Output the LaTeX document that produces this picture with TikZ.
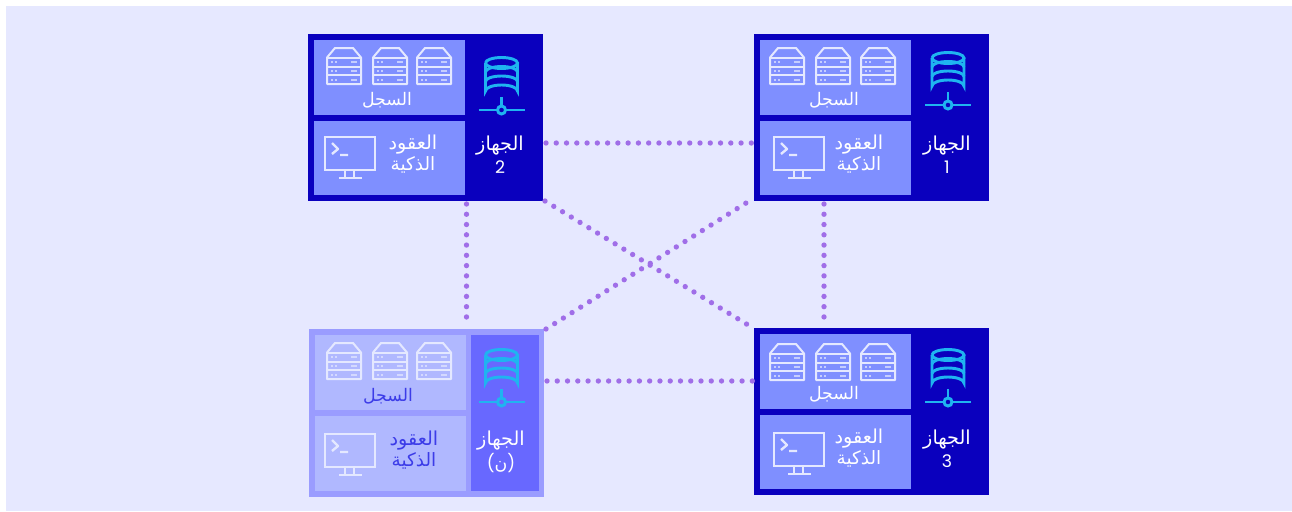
\documentclass[tikz,border=0pt]{standalone}
\usepackage{fontspec}
\usetikzlibrary{calc}
\TeXXeTstate=1
\newfontfamily\arabicfont[Script=Arabic]{DejaVu Sans}
\newfontfamily\digitfont{Poppins}
\definecolor{bgc}{HTML}{E6E8FF}
\definecolor{darkb}{HTML}{0A00BE}
\definecolor{panelb}{HTML}{7F8FFF}
\definecolor{fadeo}{HTML}{9A9CFF}
\definecolor{fadep}{HTML}{B0B8FF}
\definecolor{fader}{HTML}{6868FF}
\definecolor{fadet}{HTML}{3C3CE8}
\definecolor{dotc}{HTML}{A06EE8}
\definecolor{dbc}{HTML}{1FB4F0}
\definecolor{iconw}{HTML}{E4E8FF}
\newlength{\pxu}\setlength{\pxu}{0.75pt}
\tikzset{
  x=0.75pt,y=-0.75pt,
  boxn/.style={anchor=north west,inner sep=0pt,outer sep=0pt,minimum width=235\pxu,minimum height=167\pxu},
  paneln/.style={anchor=north west,inner sep=0pt,outer sep=0pt,minimum width=151\pxu,minimum height=#1\pxu},
  dotline/.style={draw=dotc,line width=4pt,line cap=round,dash pattern=on 0pt off 7.7pt},
  txt/.style={font=\arabicfont\fontsize{13pt}{15pt}\selectfont,text=white,inner sep=0pt},
  txtb/.style={font=\arabicfont\fontsize{14.4pt}{17pt}\selectfont,text=white,inner sep=0pt},
  txtc/.style={font=\arabicfont\fontsize{13.8pt}{17pt}\selectfont,text=white,inner sep=0pt},
  dgt/.style={font=\digitfont\fontsize{13pt}{15pt}\selectfont,text=white,inner sep=0pt},
  iconline/.style={draw=iconw,line width=1.5pt,line join=round},
  dbline/.style={draw=dbc,line width=2.2pt},
}
\newcommand{\serv}[2]{%
  \begin{scope}[shift={(#1,#2)}]
    \draw[iconline] (0,9.5) -- (8,0) -- (26,0) -- (34,9.5) -- (34,36) -- (0,36) -- cycle;
    \draw[iconline] (0,9.5) -- (34,9.5) (0,18.5) -- (34,18.5) (0,27) -- (34,27);
    \foreach \yy in {14,23,32}{
      \draw[iconw,line width=1pt,opacity=.7] (4,\yy) -- (6,\yy) (8,\yy) -- (10,\yy) (24,\yy) -- (30,\yy);
    }
  \end{scope}}
\newcommand{\mon}[2]{%
  \begin{scope}[shift={(#1,#2)}]
    \draw[draw=iconw,line width=2.2pt] (0,0) rectangle (50,33);
    \draw[iconline] (20,33) -- (20,41) (29,33) -- (29,41) (14,41) -- (37,41);
    \draw[iconline,line width=1.8pt] (7,6) -- (13,12) -- (7,17) (15,18) -- (23,18);
  \end{scope}}
\newcommand{\dbicon}[2]{%
  \begin{scope}[shift={(#1,#2)}]
    \draw[dbline] (-16,6) arc[x radius=16,y radius=5.5,start angle=180,end angle=-180];
    \draw[dbline] (-16,6) -- (-16,34) arc[x radius=16,y radius=6,start angle=180,end angle=360] -- (16,6);
    \draw[dbline] (-16,15) arc[x radius=16,y radius=5.5,start angle=180,end angle=360];
    \draw[dbline] (-16,24.5) arc[x radius=16,y radius=5.5,start angle=180,end angle=360];
    \draw[dbline] (0,40) -- (0,49);
    \draw[dbline] (-23,53) -- (-4,53) (4,53) -- (23,53);
    \draw[dbline] (0,53) circle[radius=4];
  \end{scope}}
\begin{document}
\begin{tikzpicture}
\useasboundingbox (0,0) rectangle (1292,511);
\fill[white] (0,0) rectangle (1292,511);
\fill[bgc] (6,6) rectangle (1292,511);

% device 2
\node[boxn,fill=darkb] (n2) at (308,34) {};
\node[paneln=75,fill=panelb] (n2log) at (314,40) {};
\node[paneln=74,fill=panelb] (n2sc) at (314,121) {};
\serv{327}{48}\serv{373}{48}\serv{417}{48}
\mon{325}{137}
\dbicon{501.5}{57}
\node[txt] (n2a) at (387,100) {\beginR السجل\endR};
\node[txtb] (n2b) at (413,145) {\beginR العقود\endR};
\node[txtc] (n2c) at (413,165) {\beginR الذكية\endR};
\node[txtb] (n2d) at (500,146) {\beginR الجهاز\endR};
\node[dgt] (n2e) at (500,167) {2};

% device 1
\node[boxn,fill=darkb] (n1) at (754,34) {};
\node[paneln=75,fill=panelb] (n1log) at (760,40) {};
\node[paneln=74,fill=panelb] (n1sc) at (760,121) {};
\serv{770}{48}\serv{816}{48}\serv{861}{48}
\mon{774}{137}
\dbicon{948}{52}
\node[txt] (n1a) at (834,100) {\beginR السجل\endR};
\node[txtb] (n1b) at (859,145) {\beginR العقود\endR};
\node[txtc] (n1c) at (859,165) {\beginR الذكية\endR};
\node[txtb] (n1d) at (947,146) {\beginR الجهاز\endR};
\node[dgt] (n1e) at (947,167) {1};

% device 3
\node[boxn,fill=darkb] (n3) at (754,328) {};
\node[paneln=75,fill=panelb] (n3log) at (760,334) {};
\node[paneln=74,fill=panelb] (n3sc) at (760,415) {};
\serv{770}{344}\serv{816}{344}\serv{861}{344}
\mon{774}{433}
\dbicon{948}{349}
\node[txt] (n3a) at (834,394) {\beginR السجل\endR};
\node[txtb] (n3b) at (859,439) {\beginR العقود\endR};
\node[txtc] (n3c) at (859,459) {\beginR الذكية\endR};
\node[txtb] (n3d) at (947,440) {\beginR الجهاز\endR};
\node[dgt] (n3e) at (947,461) {3};

% device n (faded)
\node[boxn,fill=fadeo,minimum height=168\pxu] (nn) at (309,329) {};
\node[paneln=75,fill=fadep] (nnlog) at (315,335) {};
\node[paneln=75,fill=fadep] (nnsc) at (315,416) {};
\node[anchor=north west,inner sep=0pt,minimum width=68\pxu,minimum height=156\pxu,fill=fader] (nnr) at (471,335) {};
\serv{327}{343}\serv{373}{343}\serv{417}{343}
\mon{325}{434}
\dbicon{501.5}{349}
\node[txt,text=fadet] (nna) at (388,396) {\beginR السجل\endR};
\node[txtb,text=fadet] (nnb) at (414,441) {\beginR العقود\endR};
\node[txtc,text=fadet] (nnc) at (414,461) {\beginR الذكية\endR};
\node[txtb] (nnd) at (501,441) {\beginR الجهاز\endR};
\node[txt] (nne) at (501,463) {{\digitfont(}\beginR ن\endR{\digitfont)}};

% connectors
\draw[dotline] ($(n2.east)+(3,25.5)$) -- ($(n1.west)+(-1,25.5)$);
\draw[dotline] ($(nn.east)+(3,-32)$) -- ($(n3.west)+(-1,-30.5)$);
\draw[dotline] ($(n2.south)+(41,3)$) -- ($(nn.north)+(40,-4)$);
\draw[dotline] ($(n1.south)+(-47.5,3)$) -- ($(n3.north)+(-47.5,-3)$);
\draw[dotline] ($(n2.south east)+(2,0)$) -- ($(n3.north west)+(-1,0)$);
\draw[dotline] ($(nn.north east)+(2,0)$) -- ($(n1.south west)+(0,-3)$);
\end{tikzpicture}
\end{document}
